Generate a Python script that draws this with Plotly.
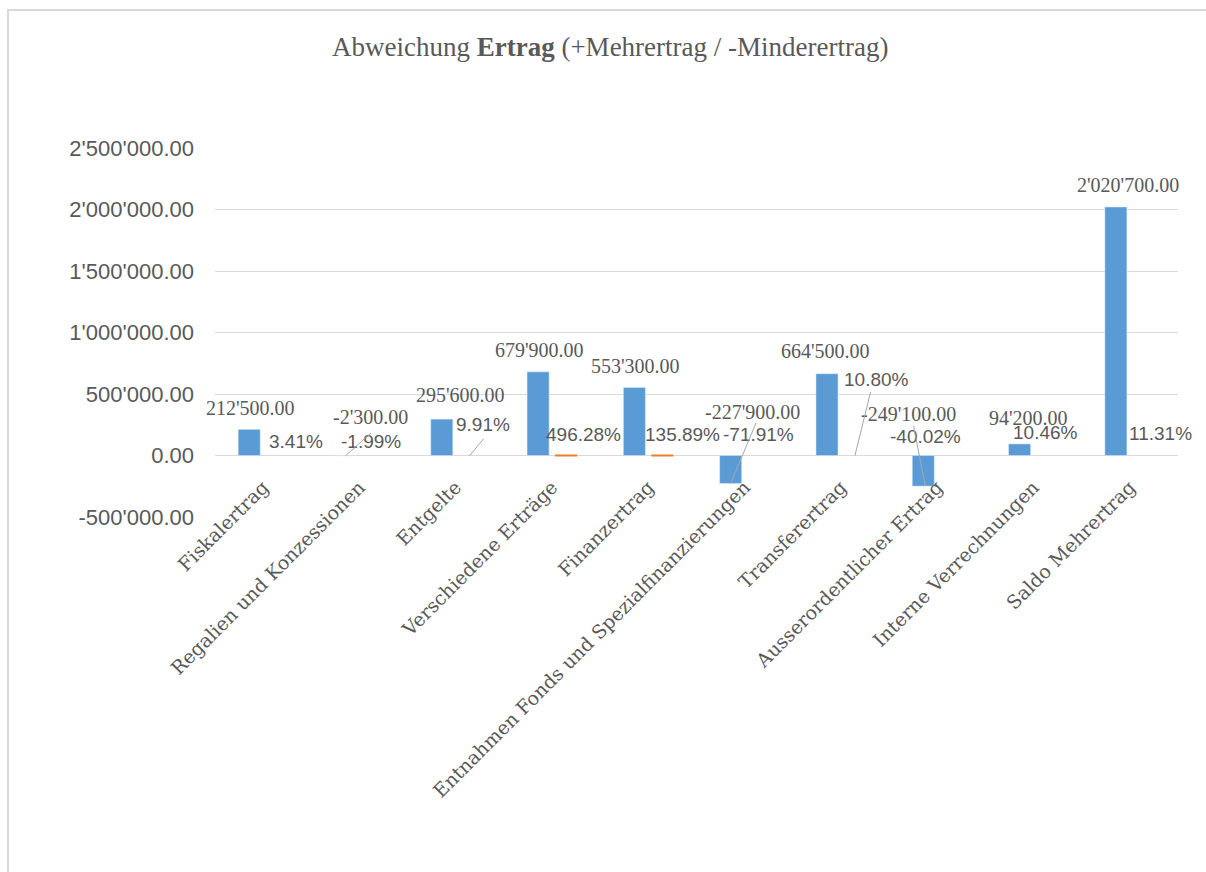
import plotly.graph_objects as go

categories = [
    "Fiskalertrag", "Regalien und Konzessionen", "Entgelte", "Verschiedene Erträge",
    "Finanzertrag", "Entnahmen Fonds und Spezialfinanzierungen", "Transferertrag",
    "Ausserordentlicher Ertrag", "Interne Verrechnungen", "Saldo Mehrertrag",
]
abweichung = [212500, -2300, 295600, 679900, 553300, -227900, 664500, -249100, 94200, 2020700]
prozent = [3.41, -1.99, 9.91, 496.28, 135.89, -71.91, 10.80, -40.02, 10.46, 11.31]

y_tickvals = [-500000, 0, 500000, 1000000, 1500000, 2000000, 2500000]

BLUE = "#5b9bd5"
ORANGE = "#ed7d31"
TXT = "#595959"
GRID = "#d9d9d9"

def fmt_amount(v):
    s = f"{abs(v):,.2f}".replace(",", "'")
    return ("-" if v < 0 else "") + s

def fmt_pct(p):
    return f"{p:.2f}%"

y_ticktext = [fmt_amount(v) for v in y_tickvals]

# label offsets in pixels (dx right, dy up) relative to data point
blue_off = [(-13, 21), (11, 39), (5, 24), (-13, 22), (-13, 21), (8, 72), (-15, 23), (-29, 72), (-5, 26), (-2, 22)]
orange_off = [(33, 14), (12, 14), (27, 31), (31, 21), (34, 21), (14, 21), (36, 76), (-12, 19), (12, 23), (31, 22)]
# leader lines: (category index, series, tail dx, tail dy(px, down positive), head xshift)
leaders = [(1, "b", 27, -24, -14), (2, "o", 15, -18, 14), (5, "b", 26, -62, -14),
           (6, "o", 16, -65, 14), (7, "b", -12, -62, -12)]

fig = go.Figure()
fig.add_bar(x=categories, y=abweichung, marker=dict(color=BLUE), name="Abweichung", hoverinfo="skip")
fig.add_bar(
    x=categories, y=[p / 100 for p in prozent], name="Prozent", hoverinfo="skip",
    marker=dict(color=ORANGE, line=dict(color=ORANGE, width=[2 if p > 100 else 0 for p in prozent])),
)

ann = []
for i, c in enumerate(categories):
    dx, dy = blue_off[i]
    ann.append(dict(x=c, y=abweichung[i], xref="x", yref="y", text=fmt_amount(abweichung[i]),
                    showarrow=False, xshift=dx, yshift=dy,
                    font=dict(family="Liberation Serif", size=20, color=TXT)))
    dx, dy = orange_off[i]
    ann.append(dict(x=c, y=prozent[i] / 100, xref="x", yref="y", text=fmt_pct(prozent[i]),
                    showarrow=False, xshift=dx, yshift=dy,
                    font=dict(family="Liberation Sans", size=19, color=TXT)))

for idx, ser, ax, ay, xs in leaders:
    yv = abweichung[idx] if ser == "b" else prozent[idx] / 100
    ann.append(dict(x=categories[idx], y=yv, xref="x", yref="y", text="", showarrow=True,
                    ax=ax, ay=ay, xshift=xs, arrowhead=0, arrowwidth=1, arrowcolor="#a6a6a6",
                    standoff=0, startstandoff=0))

fig.update_layout(
    width=1206, height=872,
    margin=dict(l=215, r=28, t=148, b=355),
    paper_bgcolor="white", plot_bgcolor="white",
    showlegend=False,
    barmode="group", bargap=0.42, bargroupgap=0.21,
    separators=".'",
    title=dict(text="Abweichung <b>Ertrag</b> (+Mehrertrag / -Minderertrag)",
               x=0.506, xanchor="center", y=1 - 47 / 872, yanchor="middle", yref="container",
               font=dict(family="Liberation Serif", size=27, color=TXT)),
    annotations=ann,
    xaxis=dict(anchor="free", position=(500000 / 3000000), tickangle=-45,
               range=[-0.5, len(categories) - 0.5], autorange=False,
               showline=False, ticks="", showgrid=False, automargin=False, ticklabelstandoff=16,
               tickfont=dict(family="DejaVu Serif", size=19, color=TXT)),
    yaxis=dict(range=[-500000, 2500000], autorange=False, tickvals=y_tickvals, ticktext=y_ticktext,
               showgrid=True, gridcolor=GRID, gridwidth=1, zeroline=True, zerolinecolor=GRID,
               zerolinewidth=1, showline=False, ticks="", automargin=False, ticklabelstandoff=20,
               tickfont=dict(family="Liberation Sans", size=22, color=TXT)),
    shapes=[dict(type="rect", xref="paper", yref="paper",
                 x0=(8 - 215) / 963, x1=1.2, y0=-1.5, y1=(517 - 10) / 369,
                 line=dict(color=GRID, width=2), fillcolor="rgba(0,0,0,0)", layer="below")],
)

fig.write_html("out.html")
